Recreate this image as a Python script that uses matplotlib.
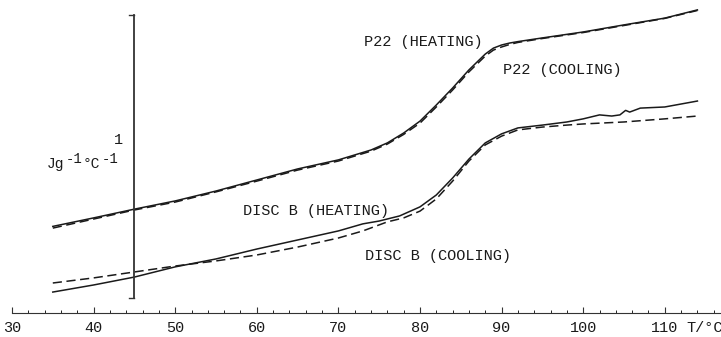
import matplotlib
matplotlib.use("Agg")
import matplotlib.pyplot as plt
from matplotlib.ticker import MultipleLocator

# Specific heat traces (J g^-1 C^-1, arbitrary baseline) versus temperature (C)
p22_heat_t = [35, 40, 45, 50, 55, 60, 65, 70, 74, 76, 78, 80, 82, 84, 86, 88,
              89, 90, 91, 92, 95, 100, 105, 110, 114]
p22_heat_cp = [1.606, 1.636, 1.667, 1.696, 1.731, 1.770, 1.809, 1.841, 1.876,
               1.901, 1.936, 1.978, 2.035, 2.095, 2.159, 2.215, 2.236, 2.247,
               2.254, 2.259, 2.272, 2.293, 2.318, 2.342, 2.371]

p22_cool_t = p22_heat_t
p22_cool_cp = [1.600, 1.632, 1.664, 1.692, 1.728, 1.766, 1.805, 1.837, 1.872,
               1.897, 1.931, 1.971, 2.028, 2.088, 2.152, 2.208, 2.229, 2.240,
               2.249, 2.256, 2.270, 2.291, 2.316, 2.341, 2.369]

disc_heat_t = [35, 40, 45, 50, 55, 60, 65, 70, 73, 75, 77.5, 80, 82, 84, 86,
               88, 90, 92, 95, 98, 100, 102, 103.5, 104.5, 105.2, 105.7, 107,
               110, 114]
disc_heat_cp = [1.374, 1.399, 1.427, 1.463, 1.491, 1.526, 1.558, 1.590, 1.615,
                1.625, 1.643, 1.675, 1.717, 1.777, 1.844, 1.901, 1.933, 1.954,
                1.964, 1.975, 1.986, 2.000, 1.996, 2.000, 2.016, 2.010, 2.024,
                2.028, 2.049]

disc_cool_t = [35, 40, 45, 50, 55, 60, 65, 70, 73, 76, 78, 80, 82, 84, 86, 88,
               90, 92, 95, 98, 100, 105, 110, 114]
disc_cool_cp = [1.406, 1.424, 1.445, 1.466, 1.484, 1.505, 1.533, 1.565, 1.590,
                1.622, 1.636, 1.660, 1.703, 1.766, 1.837, 1.894, 1.925, 1.947,
                1.957, 1.964, 1.968, 1.975, 1.986, 1.996]

x_ticks = [30, 40, 50, 60, 70, 80, 90, 100, 110]

# 1 J g^-1 C^-1 scale bar
bar_t = 45
bar_lo, bar_hi = 1.353, 2.353
axis_level = 1.3

ink = "#1a1a1a"
mono = "Liberation Mono"

fig = plt.figure(figsize=(7.21, 3.37), dpi=100)
ax = fig.add_axes([0, 0, 1, 1])
ax.set_xlim(28.53, 116.89)
ax.set_ylim(1.2152, 2.406)

lw = 1.1
ax.plot(p22_heat_t, p22_heat_cp, color=ink, lw=lw)
ax.plot(p22_cool_t, p22_cool_cp, color=ink, lw=lw, ls=(0, (6, 3)))
ax.plot(disc_heat_t, disc_heat_cp, color=ink, lw=lw)
ax.plot(disc_cool_t, disc_cool_cp, color=ink, lw=lw, ls=(0, (6, 3)))

# scale bar with small serifs
ax.plot([bar_t, bar_t], [bar_lo, bar_hi], color="#333333", lw=1.3)
ax.plot([bar_t - 0.7, bar_t], [bar_hi, bar_hi], color="#333333", lw=1.0)
ax.plot([bar_t - 0.7, bar_t], [bar_lo, bar_lo], color="#333333", lw=1.0)
ax.text(43.6, 1.911, "1", ha="right", va="center", fontsize=11,
        family=mono, color=ink)

# unit label Jg^-1 C^-1, superscripts raised by hand
unit_kw = dict(family=mono, color=ink, va="baseline", ha="left")
ax.text(34.29, 1.812, "Jg", fontsize=10.5, **unit_kw)
ax.text(36.62, 1.830, "-1", fontsize=10, **unit_kw)
ax.text(38.70, 1.812, "°C", fontsize=10.5, **unit_kw)
ax.text(41.03, 1.830, "-1", fontsize=10, **unit_kw)

# temperature axis
for s in ["top", "left", "right"]:
    ax.spines[s].set_visible(False)
ax.spines["bottom"].set_position(("data", axis_level))
ax.spines["bottom"].set_bounds(30, 116.89)
ax.spines["bottom"].set_color("#333333")
ax.set_yticks([])
ax.set_xticks(x_ticks)
ax.xaxis.set_minor_locator(MultipleLocator(2))
ax.tick_params(axis="x", which="major", direction="in", length=4,
               width=0.8, pad=6, labelsize=11, colors="#333333")
ax.tick_params(axis="x", which="minor", direction="in", length=2, width=0.6)
for lbl in ax.get_xticklabels():
    lbl.set_family(mono)
    lbl.set_color(ink)
ax.text(112.6, 1.247, "T/°C", ha="left", va="center", fontsize=11,
        family=mono, color=ink)

# curve labels
ax.text(73.1, 2.258, "P22 (HEATING)", fontsize=11, family=mono,
        va="center", color=ink)
ax.text(90.2, 2.159, "P22 (COOLING)", fontsize=11, family=mono,
        va="center", color=ink)
ax.text(58.3, 1.660, "DISC B (HEATING)", fontsize=11, family=mono,
        va="center", color=ink)
ax.text(73.3, 1.501, "DISC B (COOLING)", fontsize=11, family=mono,
        va="center", color=ink)

fig.savefig("out.png", dpi=100)
